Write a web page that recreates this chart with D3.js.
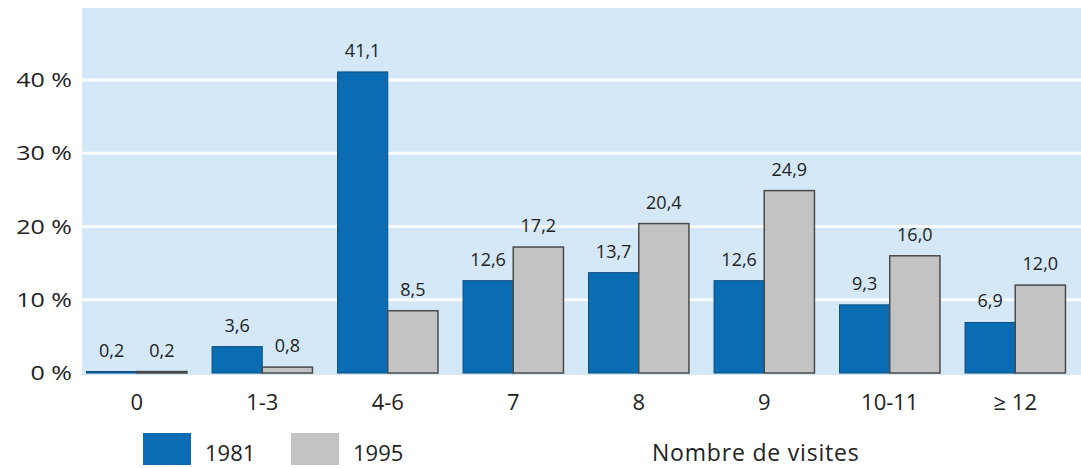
<!DOCTYPE html>
<html lang="fr">
<head>
    <meta charset="UTF-8">
    <title>Nombre de visites 1981 / 1995</title>
    <script src="https://d3js.org/d3.v7.min.js"></script>
    <style>
        body { margin: 0; background: #fff; }
        text { font-family: "Open Sans", "Noto Sans", sans-serif; fill: #222; }
    </style>
</head>
<body>
    <svg width="1081" height="468"></svg>
    <script>
        const categories = ['0', '1-3', '4-6', '7', '8', '9', '10-11', '\u2265 12'];
        const values1981 = [0.2, 3.6, 41.1, 12.6, 13.7, 12.6, 9.3, 6.9];
        const values1995 = [0.2, 0.8, 8.5, 17.2, 20.4, 24.9, 16.0, 12.0];
        const seriesNames = ['1981', '1995'];
        const yTicks = [0, 10, 20, 30, 40];
        const xTitle = 'Nombre de visites';

        const data = categories.map((c, i) => ({ category: c, '1981': values1981[i], '1995': values1995[i] }));

        const svg = d3.select('svg');
        const plot = { left: 82, right: 1081, top: 8, bottom: 375 };

        const x = d3.scaleBand().domain(categories).range([74, 1078]).paddingInner(0.2).paddingOuter(0.1);
        const xSub = d3.scaleBand().domain(seriesNames).range([0, x.bandwidth()]);
        const y = d3.scaleLinear().domain([0, 40]).range([373, 80]);
        const fill = d3.scaleOrdinal().domain(seriesNames).range(['#0a6cb2', '#c3c3c3']);
        const stroke = d3.scaleOrdinal().domain(seriesNames).range(['#0b4d80', '#4a4a4a']);

        svg.append('rect')
            .attr('x', plot.left).attr('y', plot.top)
            .attr('width', plot.right - plot.left).attr('height', plot.bottom - plot.top)
            .attr('fill', '#d4e8f7');

        // grid
        svg.append('g').selectAll('line')
            .data(yTicks.filter(d => d > 0))
            .enter().append('line')
            .attr('x1', plot.left).attr('x2', plot.right)
            .attr('y1', d => y(d)).attr('y2', d => y(d))
            .attr('stroke', '#fbfeff').attr('stroke-width', 3);

        // y labels (the original type is wide, so stretch it a bit)
        svg.append('g').selectAll('text')
            .data(yTicks)
            .enter().append('text')
            .attr('transform', d => `translate(72,${y(d) + 7}) scale(1.25,1)`)
            .attr('text-anchor', 'end')
            .attr('font-size', 20)
            .text(d => d + ' %');

        // bars
        const groups = svg.append('g').selectAll('g')
            .data(data)
            .enter().append('g')
            .attr('transform', d => `translate(${x(d.category)},0)`);

        groups.selectAll('rect')
            .data(d => seriesNames.map(k => ({ key: k, value: d[k] })))
            .enter().append('rect')
            .attr('x', d => xSub(d.key))
            .attr('y', d => y(d.value))
            .attr('width', xSub.bandwidth())
            .attr('height', d => y(0) - y(d.value))
            .attr('fill', d => fill(d.key))
            .attr('stroke', d => stroke(d.key))
            .attr('stroke-width', d => d.key === '1981' ? 1 : 1.5);

        groups.selectAll('text')
            .data(d => seriesNames.map(k => ({ key: k, value: d[k] })))
            .enter().append('text')
            .attr('x', d => xSub(d.key) + xSub.bandwidth() / 2)
            .attr('y', d => y(d.value) - 15)
            .attr('text-anchor', 'middle')
            .attr('font-size', 18)
            .text(d => d.value.toFixed(1).replace('.', ','));

        // x axis labels
        const xAxis = svg.append('g')
            .attr('transform', `translate(0,${plot.bottom})`)
            .call(d3.axisBottom(x).tickSize(0).tickPadding(19));
        xAxis.select('.domain').remove();
        xAxis.selectAll('text').attr('font-size', 22).attr('font-family', '"Open Sans", sans-serif').attr('fill', '#222');

        // legend
        const legend = svg.append('g');
        seriesNames.forEach((k, i) => {
            const lx = 143 + i * 148;
            legend.append('rect')
                .attr('x', lx).attr('y', 433)
                .attr('width', 48).attr('height', 32)
                .attr('fill', fill(k));
            legend.append('text')
                .attr('x', lx + 62).attr('y', 461)
                .attr('font-size', 22)
                .text(k);
        });
        legend.append('text')
            .attr('x', 652).attr('y', 461)
            .attr('font-size', 23)
            .attr('letter-spacing', 0.8)
            .text(xTitle);
    </script>
</body>
</html>
